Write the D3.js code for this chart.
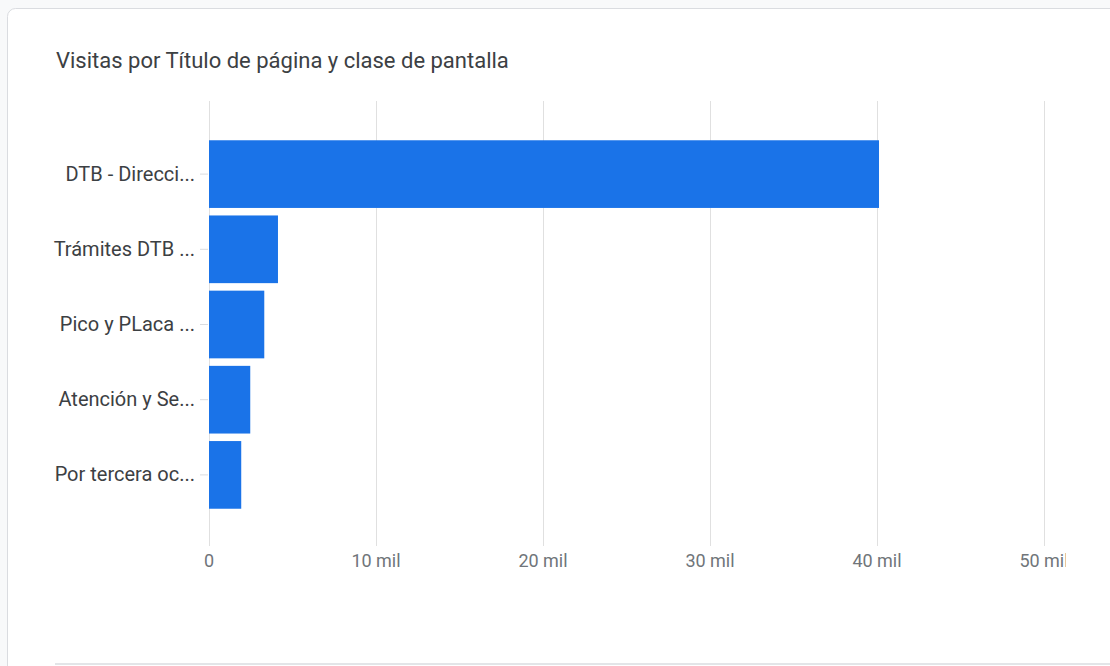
<!DOCTYPE html>
<html>
<head>
<meta charset="utf-8">
<script src="https://cdn.jsdelivr.net/npm/d3@7"></script>
<style>
  body { margin: 0; background: #f8f9fa; font-family: Roboto, "Noto Sans", sans-serif; }
  svg { display: block; }
</style>
</head>
<body>
<svg id="chart" width="1110" height="666"></svg>
<script>
const width = 1110;
const height = 666;

// data
const pages = ["DTB - Direcci...", "Trámites DTB ...", "Pico y PLaca ...", "Atención y Se...", "Por tercera oc..."];
const visits = [40120, 4130, 3310, 2470, 1930];
const xTicks = [0, 10000, 20000, 30000, 40000, 50000];
const tickLabels = ["0", "10 mil", "20 mil", "30 mil", "40 mil", "50 mil"];

const data = pages.map((p, i) => ({ page: p, value: visits[i] }));

const svg = d3.select("#chart");

// card
svg.append("rect")
    .attr("x", 7.5).attr("y", 8.5)
    .attr("width", 1200).attr("height", 700)
    .attr("rx", 8)
    .attr("fill", "#fff")
    .attr("stroke", "#dadce0");

svg.append("text")
    .attr("x", 56).attr("y", 68)
    .attr("fill", "#3c4043")
    .style("font-size", "22px")
    .text("Visitas por Título de página y clase de pantalla");

svg.append("line")
    .attr("x1", 55).attr("x2", width)
    .attr("y1", 664).attr("y2", 664)
    .attr("stroke", "#e3e5e8").attr("stroke-width", 2);

svg.append("clipPath").attr("id", "clip")
    .append("rect").attr("x", 0).attr("y", 0).attr("width", 1066).attr("height", height);

const g = svg.append("g").attr("clip-path", "url(#clip)");

const x = d3.scaleLinear().domain([0, 50000]).range([209, 1044]);
const y = d3.scaleBand()
    .domain(pages)
    .range([136.5, 512.5])
    .paddingInner(0.1)
    .paddingOuter(0.05);

// gridlines
g.selectAll(".grid")
    .data(xTicks)
    .join("line")
    .attr("class", "grid")
    .attr("x1", (d) => Math.round(x(d)) + 0.5)
    .attr("x2", (d) => Math.round(x(d)) + 0.5)
    .attr("y1", 101).attr("y2", 546)
    .attr("stroke", "#e0e0e0");

// x tick labels
g.selectAll(".xlabel")
    .data(xTicks)
    .join("text")
    .attr("class", "xlabel")
    .attr("x", (d) => x(d))
    .attr("y", 567)
    .attr("text-anchor", "middle")
    .attr("fill", "#70757a")
    .style("font-size", "18px")
    .text((d, i) => tickLabels[i]);

// y axis ticks and labels
const yAxis = d3.axisLeft(y).tickSize(8).tickPadding(5);
const ya = g.append("g")
    .attr("transform", "translate(208,0)")
    .call(yAxis);
ya.select(".domain").remove();
ya.selectAll(".tick line").attr("stroke", "#dadce0");
ya.selectAll(".tick text")
    .attr("fill", "#3c4043")
    .style("font-size", "20px")
    .style("font-family", "Roboto, sans-serif");

// bars
g.selectAll(".bar")
    .data(data)
    .join("rect")
    .attr("class", "bar")
    .attr("x", x(0))
    .attr("y", (d) => y(d.page))
    .attr("width", (d) => x(d.value) - x(0))
    .attr("height", y.bandwidth())
    .attr("fill", "#1a73e8");
</script>
</body>
</html>
